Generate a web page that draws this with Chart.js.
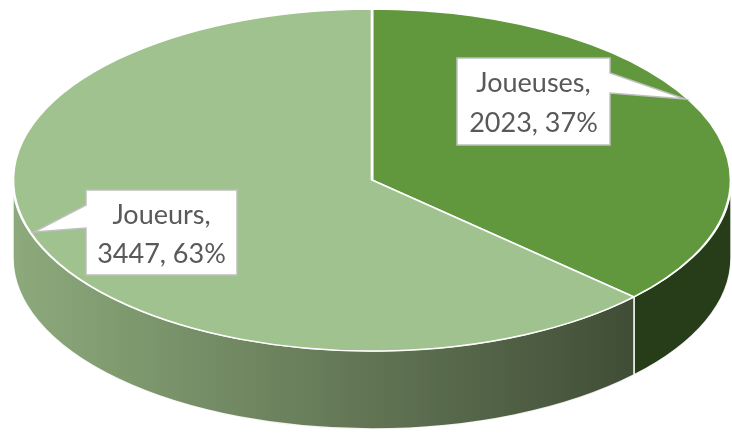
<!DOCTYPE html>
<html lang="fr">
<head>
<meta charset="UTF-8">
<title>Joueurs / Joueuses</title>
<style>
  * { margin: 0; padding: 0; }
  body { background: #ffffff; width: 732px; height: 434px; overflow: hidden; }
</style>
</head>
<body>
<canvas id="myChart" width="732" height="434"></canvas>

<script src="https://cdn.jsdelivr.net/npm/chart.js"></script>
<script>
  // data
  const labels = ['Joueuses', 'Joueurs'];
  const values = [2023, 3447];
  const topColors = ['#62983D', '#A0C28E'];

  // 3d look: ellipse of the top face and depth of the side
  const CX = 372, CY = 180, RX = 359, RY = 171, DEPTH = 78;

  // callout boxes (box rect + pointer tip + side of the pointer)
  const callouts = [
    { box: [457, 58, 610, 145], tip: [685, 99], base: [73, 93], side: 'right', lines: [92, 132] },
    { box: [86, 190, 237, 275], tip: [34, 232], base: [205, 228], side: 'left', lines: [224, 263] }
  ];

  const total = values.reduce((a, b) => a + b, 0);

  function sideFill(ctx, i) {
    if (i === 0) return '#273D19';
    const g = ctx.createLinearGradient(CX - RX, 0, 655, 0);
    g.addColorStop(0, '#8DAA7C');
    g.addColorStop(1, '#3E4A34');
    return g;
  }

  const pie3d = {
    id: 'pie3d',
    beforeDatasetsDraw(chart) {
      const ctx = chart.ctx;
      const meta = chart.getDatasetMeta(0);
      // side walls, only the front half of the disc is visible
      meta.data.forEach((arc, i) => {
        const a0 = Math.max(arc.startAngle, 0);
        const a1 = Math.min(arc.endAngle, Math.PI);
        if (a1 <= a0) return;
        ctx.beginPath();
        ctx.ellipse(CX, CY, RX, RY, 0, a0, a1);
        ctx.ellipse(CX, CY + DEPTH, RX, RY, 0, a1, a0, true);
        ctx.closePath();
        ctx.fillStyle = sideFill(ctx, i);
        ctx.fill();
        ctx.strokeStyle = 'rgba(255,255,255,0.9)';
        ctx.lineWidth = 1.5;
        ctx.stroke();
      });
      // squash the round pie into the top ellipse
      const a = meta.data[0];
      const r = a.outerRadius;
      ctx.save();
      ctx.translate(CX, CY);
      ctx.scale(RX / r, RY / r);
      ctx.translate(-a.x, -a.y);
    },
    afterDatasetsDraw(chart) {
      const ctx = chart.ctx;
      ctx.restore();
      // data labels
      callouts.forEach((c, i) => {
        const [x0, y0, x1, y1] = c.box;
        ctx.beginPath();
        if (c.side === 'right') {
          ctx.moveTo(x0, y0);
          ctx.lineTo(x1, y0);
          ctx.lineTo(x1, c.base[0]);
          ctx.lineTo(c.tip[0], c.tip[1]);
          ctx.lineTo(x1, c.base[1]);
          ctx.lineTo(x1, y1);
          ctx.lineTo(x0, y1);
        } else {
          ctx.moveTo(x0, y0);
          ctx.lineTo(x1, y0);
          ctx.lineTo(x1, y1);
          ctx.lineTo(x0, y1);
          ctx.lineTo(x0, c.base[1]);
          ctx.lineTo(c.tip[0], c.tip[1]);
          ctx.lineTo(x0, c.base[0]);
        }
        ctx.closePath();
        ctx.fillStyle = '#ffffff';
        ctx.fill();
        ctx.strokeStyle = '#BFBFBF';
        ctx.lineWidth = 1.5;
        ctx.stroke();

        const pct = Math.round(values[i] / total * 100);
        ctx.fillStyle = '#595959';
        ctx.font = '27px Lato, "Open Sans", sans-serif';
        ctx.textAlign = 'center';
        ctx.textBaseline = 'alphabetic';
        const mx = (x0 + x1) / 2;
        ctx.fillText(labels[i] + ',', mx, c.lines[0]);
        ctx.fillText(values[i] + ', ' + pct + '%', mx, c.lines[1]);
      });
    }
  };

  const data = {
    labels: labels,
    datasets: [{
      data: values,
      backgroundColor: topColors,
      borderColor: '#ffffff',
      borderWidth: 1.6
    }]
  };

  const config = {
    type: 'pie',
    data,
    options: {
      responsive: false,
      animation: false,
      layout: { padding: 0 },
      plugins: {
        legend: { display: false },
        tooltip: { enabled: false }
      }
    },
    plugins: [pie3d]
  };

  const myChart = new Chart(document.getElementById('myChart'), config);
</script>
</body>
</html>
